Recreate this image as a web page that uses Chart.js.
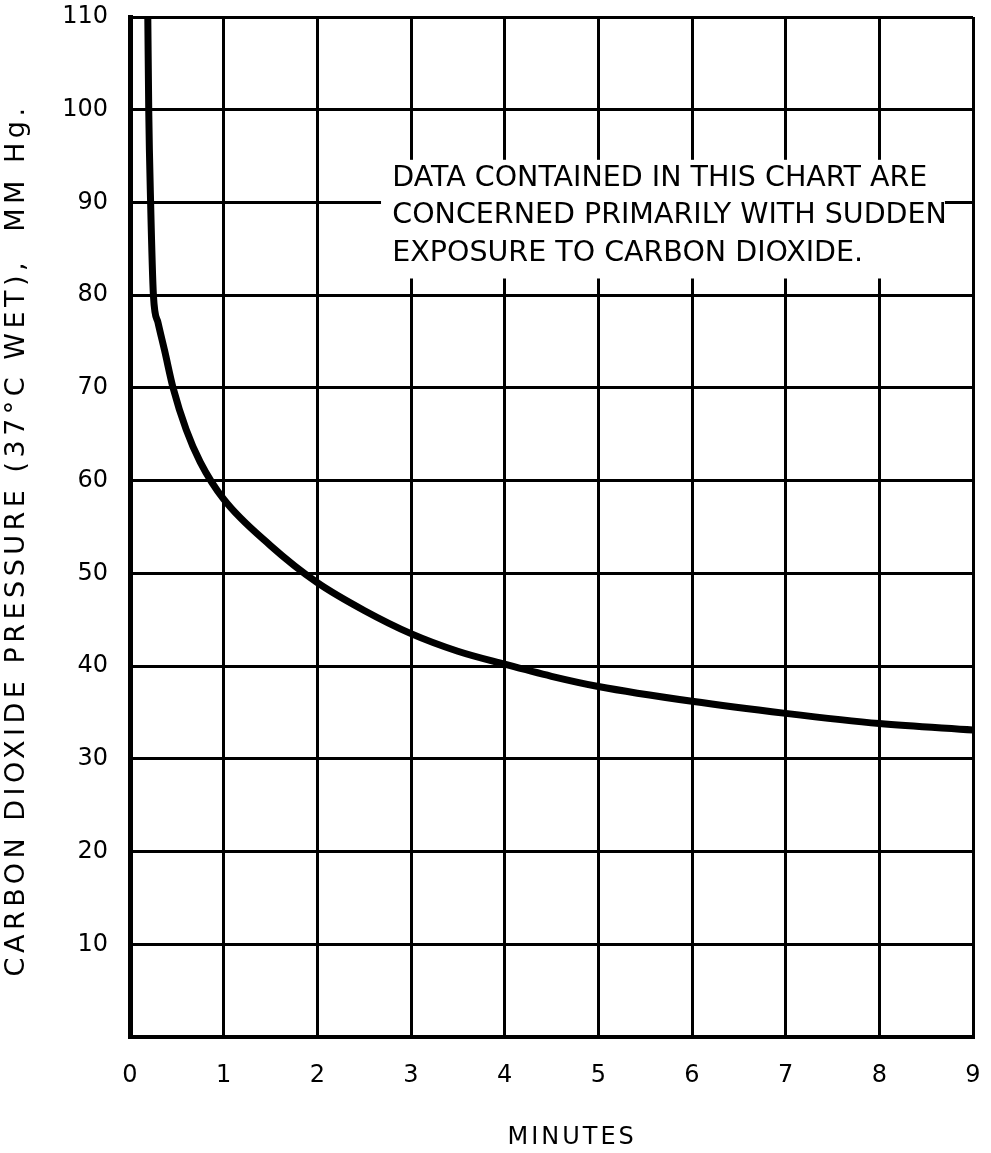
<!DOCTYPE html>
<html>
<head>
<meta charset="utf-8">
<title>Carbon dioxide pressure vs minutes</title>
<script src="https://cdn.jsdelivr.net/npm/chart.js@4"></script>
<style>
    html, body { margin: 0; padding: 0; background: #fff; }
    #wrap { width: 991px; height: 1153px; }
</style>
</head>
<body>
<div id="wrap"><canvas id="chart1"></canvas></div>
<script>
// curve
var minutes = [0.19, 0.2, 0.22, 0.25, 0.3, 0.37, 0.46, 0.6, 0.75, 1, 1.5, 2, 2.5, 3, 3.5, 4, 4.5, 5, 6, 7, 8, 9];
var pressure = [110, 100, 90, 80, 77, 74, 70, 65.5, 62, 58, 53, 49, 46, 43.5, 41.6, 40.2, 38.9, 37.8, 36.2, 34.9, 33.8, 33.1];

var xTicks = [0, 1, 2, 3, 4, 5, 6, 7, 8, 9];
var yTicks = [0, 10, 20, 30, 40, 50, 60, 70, 80, 90, 100, 110];

var xTitle = 'MINUTES';
var yTitle = 'CARBON DIOXIDE PRESSURE (37\u00B0C WET),  MM Hg.';
var noteLines = [
    'DATA CONTAINED IN THIS CHART ARE',
    'CONCERNED PRIMARILY WITH SUDDEN',
    'EXPOSURE TO CARBON DIOXIDE.'
];

var FONT = '"DejaVu Sans", sans-serif';

// white patch with the note, drawn over the grid
var notePlugin = {
    id: 'note',
    beforeDatasetsDraw: function (chart) {
        var ctx = chart.ctx;
        var xs = chart.scales.x, ys = chart.scales.y;
        var left = xs.getPixelForValue(2.68), right = xs.getPixelForValue(8.7);
        var top = ys.getPixelForValue(94.6), bottom = ys.getPixelForValue(81.8);
        ctx.save();
        ctx.fillStyle = '#fff';
        ctx.fillRect(left, top, right - left, bottom - top);
        ctx.fillStyle = '#000';
        ctx.font = '28.5px ' + FONT;
        ctx.textBaseline = 'middle';
        ctx.textAlign = 'left';
        var tx = xs.getPixelForValue(2.8);
        var ty = ys.getPixelForValue(92.6);
        noteLines.forEach(function (line, i) {
            ctx.fillText(line, tx, ty + i * 37.5);
        });
        ctx.restore();
    }
};

// axis titles, spaced out like the lettering on the original
var titlesPlugin = {
    id: 'titles',
    afterDraw: function (chart) {
        var ctx = chart.ctx;
        var xs = chart.scales.x, ys = chart.scales.y;
        ctx.save();
        ctx.fillStyle = '#000';
        ctx.textAlign = 'center';
        ctx.textBaseline = 'middle';
        ctx.letterSpacing = '3px';
        ctx.font = '24px ' + FONT;
        ctx.fillText(xTitle, xs.getPixelForValue(4.72), xs.bottom - 15);

        ctx.letterSpacing = '4.5px';
        ctx.font = '27px ' + FONT;
        ctx.translate(ys.left + 17, ys.getPixelForValue(53.6));
        ctx.rotate(-Math.PI / 2);
        ctx.fillText(yTitle, 0, 0);
        ctx.restore();
    }
};

var points = minutes.map(function (m, i) { return { x: m, y: pressure[i] }; });

var chart1 = new Chart(document.getElementById('chart1'), {
    type: 'line',
    data: {
        datasets: [
            {
                data: points,
                borderColor: '#000',
                borderWidth: 7,
                pointRadius: 0,
                fill: false,
                cubicInterpolationMode: 'monotone',
            },
        ],
    },
    options: {
        responsive: true,
        maintainAspectRatio: false,
        animation: false,
        layout: { padding: { left: 0, top: 17, right: 18, bottom: 0 } },
        plugins: { legend: { display: false }, tooltip: { enabled: false } },
        scales: {
            x: {
                type: 'linear',
                min: 0,
                max: 9,
                afterBuildTicks: function (scale) {
                    scale.ticks = xTicks.map(function (v) { return { value: v }; });
                },
                afterFit: function (scale) {
                    scale.height = 116;
                    scale.paddingLeft = 0;
                    scale.paddingRight = 0;
                },
                grid: { color: '#000', lineWidth: 3, drawTicks: false },
                border: { color: '#000', width: 4 },
                ticks: {
                    color: '#000',
                    padding: 24,
                    maxRotation: 0,
                    font: { family: FONT, size: 24 },
                },
                title: { display: false },
            },
            y: {
                type: 'linear',
                min: 0,
                max: 110,
                afterBuildTicks: function (scale) {
                    scale.ticks = yTicks.map(function (v) { return { value: v }; });
                },
                afterFit: function (scale) {
                    scale.width = 130;
                    scale.paddingTop = 0;
                    scale.paddingBottom = 0;
                },
                grid: { color: '#000', lineWidth: 3, drawTicks: false },
                border: { color: '#000', width: 5 },
                ticks: {
                    color: '#000',
                    padding: 22,
                    font: { family: FONT, size: 24 },
                    callback: function (v) { return v === 0 ? '' : v; },
                },
                title: { display: false },
            },
        },
    },
    plugins: [notePlugin, titlesPlugin],
});
</script>
</body>
</html>
